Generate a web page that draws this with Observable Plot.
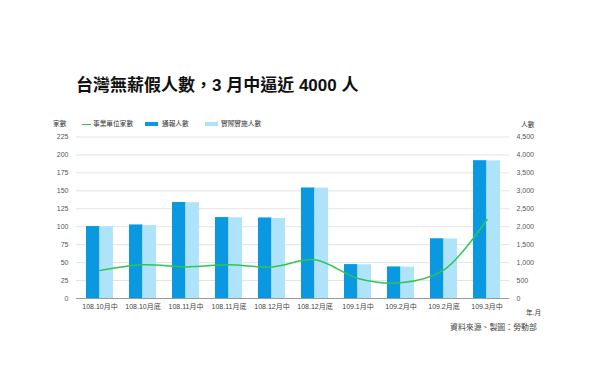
<!DOCTYPE html>
<html><head><meta charset="utf-8">
<script src="https://cdn.jsdelivr.net/npm/d3@7"></script>
<script src="https://cdn.jsdelivr.net/npm/@observablehq/plot@0.6"></script>
<style>
body{margin:0;background:#fff;font-family:"Liberation Sans","Noto Sans CJK TC",sans-serif;}
#wrap{position:relative;width:600px;height:378px;overflow:hidden;}
.abs{position:absolute;white-space:nowrap;line-height:1;}
#title{left:76px;top:77px;font-size:17px;font-weight:bold;color:#111;font-family:"Liberation Sans","Noto Sans CJK TC",sans-serif;}
.lg{font-size:6.7px;color:#333;}
#chart{position:absolute;left:0;top:110px;}
</style></head>
<body><div id="wrap">
<div id="title" class="abs">台灣無薪假人數，3 月中逼近 4000 人</div>
<div class="abs lg" style="left:53px;top:120.5px;">家數</div>
<div class="abs" style="left:82px;top:123.5px;width:9px;height:1.5px;background:#2dc653;"></div>
<div class="abs lg" style="left:93px;top:120.5px;">事業單位家數</div>
<div class="abs" style="left:145px;top:121.5px;width:13px;height:4.5px;background:#0a98e0;"></div>
<div class="abs lg" style="left:162px;top:120.5px;">通報人數</div>
<div class="abs" style="left:205px;top:121.5px;width:13px;height:4.5px;background:#aee3fa;"></div>
<div class="abs lg" style="left:221px;top:120.5px;">實際實施人數</div>
<div class="abs lg" style="left:521px;top:121.5px;">人數</div>
<div class="abs lg" style="left:526px;top:310px;">年.月</div>
<div class="abs" style="left:450px;top:324px;font-size:7.9px;color:#444;">資料來源、製圖：勞動部</div>
<div id="chart"></div>
</div>
<script>
const categories = ["108.10月中","108.10月底","108.11月中","108.11月底","108.12月中","108.12月底","109.1月中","109.2月中","109.2月底","109.3月中"];
const reported = [2005, 2050, 2675, 2255, 2245, 3080, 945, 880, 1665, 3840];
const actual   = [2000, 2030, 2670, 2250, 2230, 3075, 940, 875, 1660, 3835];
const companies = [39, 47, 44, 47, 44, 54, 28, 22, 40, 110];
const leftTicks = [0,25,50,75,100,125,150,175,200,225];
const ratio = 20; // 人數 per 家數 on the shared y scale

const rows = categories.map((c,i)=>({cat:c, rep:reported[i]/ratio, act:actual[i]/ratio, co:companies[i]}));
const half = 13.5;
const fmt = d3.format(",");

const plot = Plot.plot({
  width:600, height:230,
  marginTop:26.5, marginBottom:42, marginLeft:76, marginRight:91,
  style:{fontFamily:'"Liberation Sans","Noto Sans CJK TC",sans-serif', fontSize:"7px", color:"#555", background:"transparent"},
  x:{domain:categories, paddingInner:0.375, paddingOuter:0.2, label:null},
  y:{domain:[0,225], label:null},
  marks:[
    Plot.ruleY(leftTicks.slice(1), {stroke:"#e3e3e3", strokeWidth:1}),
    Plot.barY(rows, {x:"cat", y:"rep", fill:"#0a98e0", insetRight:half, insetLeft:0}),
    Plot.barY(rows, {x:"cat", y:"act", fill:"#aee3fa", insetLeft:half, insetRight:0}),
    Plot.ruleY([0], {stroke:"#9a9a9a", strokeWidth:1}),
    Plot.line(rows, {x:"cat", y:"co", stroke:"#2dc653", strokeWidth:1.5, curve:"catmull-rom"}),
    Plot.axisY(leftTicks, {anchor:"left", tickSize:0, tickPadding:8, label:null, fill:"#555"}),
    Plot.axisY(leftTicks, {anchor:"right", tickSize:0, tickPadding:7, label:null, fill:"#555", tickFormat:d=>fmt(d*ratio)}),
    Plot.axisX({tickSize:0, tickPadding:6, label:null, fill:"#444"})
  ]
});
document.getElementById("chart").appendChild(plot);
</script>
</body></html>
